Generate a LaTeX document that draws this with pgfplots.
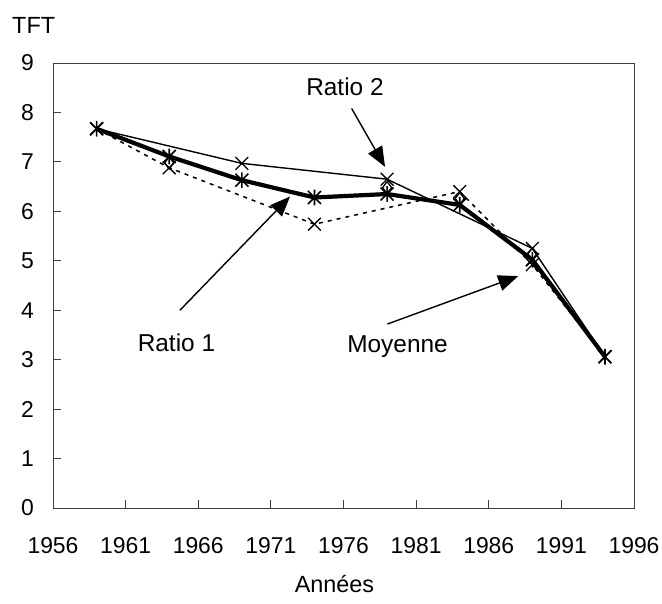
\documentclass[border=0pt]{standalone}
\usepackage{pgfplots}
\pgfplotsset{compat=1.18}
\usepackage{fontspec}
\setmainfont{Liberation Sans}
\usetikzlibrary{arrows.meta}
\pgfdeclareplotmark{xstar}{%
  \pgfpathmoveto{\pgfqpoint{-\pgfplotmarksize}{-\pgfplotmarksize}}%
  \pgfpathlineto{\pgfqpoint{\pgfplotmarksize}{\pgfplotmarksize}}%
  \pgfpathmoveto{\pgfqpoint{-\pgfplotmarksize}{\pgfplotmarksize}}%
  \pgfpathlineto{\pgfqpoint{\pgfplotmarksize}{-\pgfplotmarksize}}%
  \pgfpathmoveto{\pgfqpoint{0pt}{-1.2\pgfplotmarksize}}%
  \pgfpathlineto{\pgfqpoint{0pt}{1.2\pgfplotmarksize}}%
  \pgfusepathqstroke}
\begin{document}
\fontsize{21}{25}\selectfont
\begin{tikzpicture}[font=\fontsize{21}{25}\selectfont]
\begin{axis}[
  scale only axis,
  width=581bp, height=445bp,
  xmin=1956, xmax=1996, ymin=0, ymax=9,
  xtick={1956,1961,...,1996},
  ytick={0,1,...,9},
  xtick pos=left, ytick pos=left,
  tick align=inside,
  major tick length=8bp,
  tick style={black!75, line width=0.8bp},
  axis line style={black!75, line width=1bp},
  every tick label/.append style={font=\fontsize{23}{27}\selectfont},
  /pgf/number format/assume math mode=true,
  x tick label style={/pgf/number format/1000 sep={}, anchor=north, inner sep=0pt, yshift=-29bp},
  y tick label style={anchor=east, inner sep=0pt, xshift=-19bp},
  xlabel={Années},
  ylabel={TFT},
  every axis x label/.style={at={(axis description cs:0.5,0)}, anchor=base, inner sep=0pt, xshift=-9bp, yshift=-84bp, font=\fontsize{23.5}{27}\selectfont},
  every axis y label/.style={at={(axis description cs:0,1)}, anchor=base west, inner sep=0pt, xshift=-41bp, yshift=30bp, font=\fontsize{23.5}{27}\selectfont},
  clip=false,
]
% Ratio 1 (dotted)
\addplot[black, line width=1.5bp, dash pattern=on 4bp off 5bp, mark=x, mark size=9bp,
  mark options={solid, line width=1.3bp}]
  coordinates {(1959,7.67) (1964,6.88) (1974,5.74) (1984,6.40) (1989,4.92) (1994,3.06)};
% Ratio 2 (thin)
\addplot[black, line width=1.4bp, mark=x, mark size=9bp, mark options={line width=1.3bp}]
  coordinates {(1959,7.67) (1969,6.97) (1979,6.65) (1989,5.25) (1994,3.06)};
% diamonds
\addplot[only marks, black, mark=diamond, mark size=6bp, mark options={line width=1.3bp}]
  coordinates {(1964,6.98) (1979,6.48) (1984,6.26) (1989,5.14)};
% Moyenne (thick)
\addplot[black, line width=4.2bp, mark=xstar, mark size=6.5bp, mark options={line width=1.6bp}]
  coordinates {(1959,7.67) (1964,7.11) (1969,6.63) (1974,6.28) (1979,6.35) (1984,6.13) (1989,5.02) (1994,3.06)};
% annotations
\node[anchor=center, inner sep=0pt, font=\fontsize{24.5}{28}\selectfont] at (axis cs:1976.10,8.51) {Ratio 2};
\draw[line width=1.4bp, -{Triangle[length=20bp,width=16bp]}] (axis cs:1976.56,8.08) -- (axis cs:1978.86,6.90);
\node[anchor=center, inner sep=0pt, font=\fontsize{24.5}{28}\selectfont] at (axis cs:1964.50,3.35) {Ratio 1};
\draw[line width=1.4bp, -{Triangle[length=20bp,width=16bp]}] (axis cs:1964.74,4.00) -- (axis cs:1972.32,6.30);
\node[anchor=base, inner sep=0pt, font=\fontsize{24.5}{28}\selectfont] at (axis cs:1979.72,3.155) {Moyenne};
\draw[line width=1.4bp, -{Triangle[length=20bp,width=16bp]}] (axis cs:1979.02,3.72) -- (axis cs:1988.03,4.69);
\end{axis}
\pgfresetboundingbox
\path[use as bounding box] (-53bp,-96bp) rectangle (609bp,508bp);
\end{tikzpicture}
\end{document}
